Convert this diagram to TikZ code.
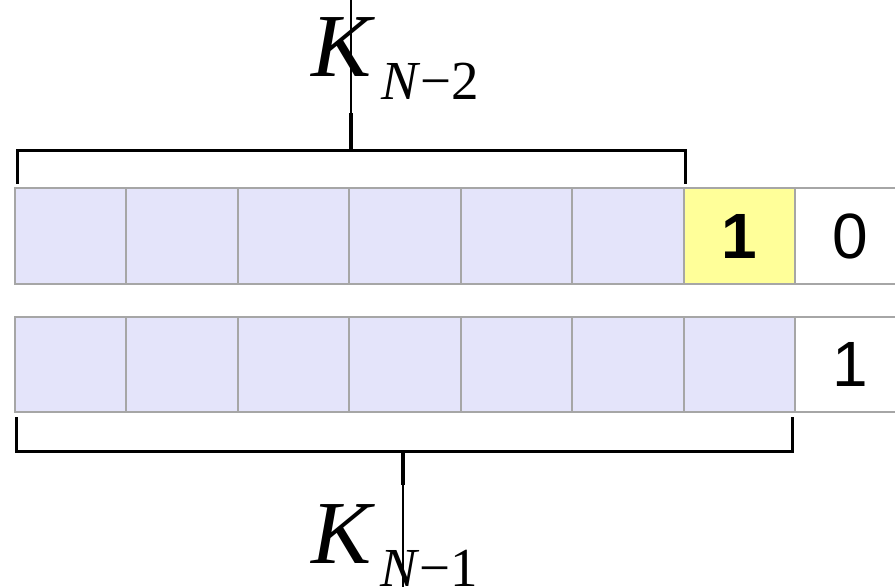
\documentclass[tikz,border=0pt]{standalone}
\usepackage{fontspec}
\setmainfont{Liberation Serif}
\newfontfamily\digitfont{Liberation Sans}
\definecolor{cellfill}{HTML}{E4E4FA}
\definecolor{cellline}{HTML}{A6A6A6}
\definecolor{hilite}{HTML}{FFFF99}
\begin{document}
\begin{tikzpicture}[x=1pt,y=-1pt,
  cell/.style={draw=cellline,line width=2pt,fill=cellfill,inner sep=0pt,
    minimum width=111.43pt,minimum height=96pt,anchor=north west},
  whitecell/.style={cell,fill=white},
  yelcell/.style={cell,fill=hilite},
  digit/.style={font=\digitfont\fontsize{64}{64}\selectfont},
  bdigit/.style={font=\digitfont\bfseries\fontsize{64}{64}\selectfont},
  bracket/.style={draw=black,line width=3pt},
  stem/.style={draw=black,line width=3.2pt},
  thinstem/.style={draw=black,line width=2.4pt},
  bigK/.style={anchor=base west,inner sep=0pt,font=\itshape\fontsize{90}{90}\selectfont},
  subK/.style={anchor=base west,inner sep=0pt,font=\fontsize{55}{55}\selectfont}]
\useasboundingbox (0,0) rectangle (895,587);
\clip (0,0) rectangle (895,587);
% row 1
\foreach \i in {1,...,6} {
  \node[cell] (a\i) at ({14+(\i-1)*111.43},187) {};
}
\node[yelcell,bdigit] (a7) at ({14+6*111.43},187) {1};
\node[whitecell,digit] (a8) at ({14+7*111.43},187) {0};
% row 2
\foreach \i in {1,...,7} {
  \node[cell,minimum height=95pt] (b\i) at ({14+(\i-1)*111.43},316) {};
}
\node[whitecell,digit,minimum height=95pt] (b8) at ({14+7*111.43},316) {1};
% labels
\node[bigK] (k1) at (311,76) {K};
\node[subK] (s1) at (381,99) {\textit{N}−2};
\node[bigK] (k2) at (311,563) {K};
\node[subK] (s2) at (380,586) {\textit{N}−1};
% top bracket
\coordinate (tl) at (17,184);
\coordinate (tr) at (685,184);
\coordinate (tm) at (351,150);
\coordinate (tmid) at (351,113);
\coordinate (ttop) at (351,0);
\draw[bracket] (tl) |- (tr |- tm) -- (tr);
\draw[stem] (tm) -- (tmid);
\draw[thinstem] (tmid) -- (ttop);
% bottom bracket
\coordinate (bl) at (16,417);
\coordinate (br) at (792,417);
\coordinate (bm) at (403,451);
\coordinate (bmid) at (403,485);
\coordinate (bbot) at (403,587);
\draw[bracket] (bl) |- (br |- bm) -- (br);
\draw[stem] (bm) -- (bmid);
\draw[thinstem] (bmid) -- (bbot);
\end{tikzpicture}
\end{document}
